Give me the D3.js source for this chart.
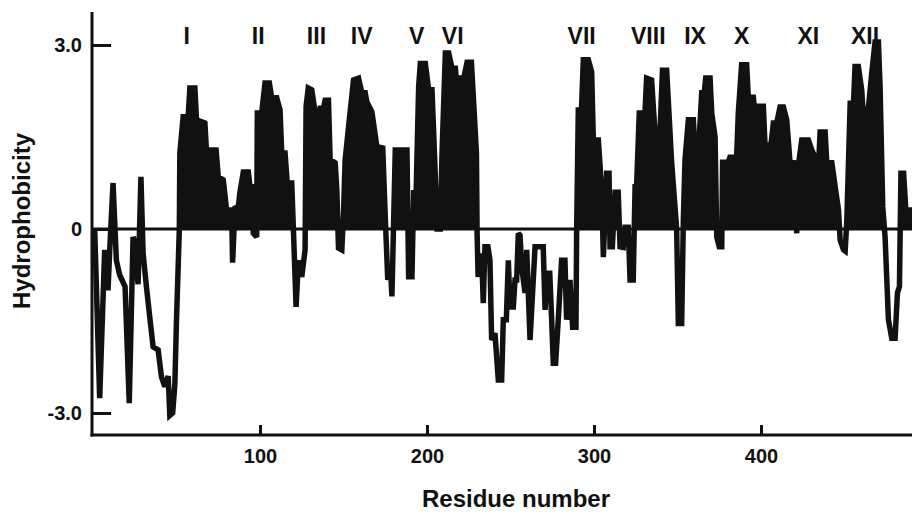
<!DOCTYPE html>
<html>
<head>
<meta charset="utf-8">
<script src="https://cdn.jsdelivr.net/npm/d3@7"></script>
<style>
  html, body { margin: 0; padding: 0; background: #fff; }
  svg { display: block; }
  text { font-family: "Liberation Sans", Arial, Helvetica, sans-serif; font-weight: bold; fill: #111; }
</style>
</head>
<body>
<script>
// ---- Data ----
const residue = [
  1, 4, 7, 9, 10, 12, 14, 16, 19.2, 21.7, 24, 25, 27, 28.7, 30, 32, 34, 36, 39, 41, 43, 45, 46, 47.7, 49, 50, 51.7,
  52, 54, 57, 58, 61, 62, 67, 68, 70, 73.7, 75, 78, 80, 83, 83.6, 85, 87, 88, 90, 93, 94, 95, 96, 98,
  98.4, 101, 103, 105.6, 107, 110, 112, 113, 115, 116.3, 119, 120, 121.6, 123, 125, 127,
  127.6, 128.9, 131, 133.5, 135, 136, 138, 139, 141, 142, 145, 146, 147, 149, 150,
  151, 153, 156, 159, 161, 163, 164, 167, 170, 173.5, 175, 176.5, 178, 179,
  181, 183, 184, 185, 188, 189, 191, 192, 193.5, 195, 196, 199, 201, 203, 205, 206, 208,
  209, 211, 213, 215, 217, 218, 220, 222, 224, 226.6, 229.6, 230, 230.6, 232.7, 233.7, 234.7, 236.5,
  237.7, 238.7, 240.7, 242.7, 244.7, 245.7, 247.5, 248.7, 249.7, 251.7, 252.7, 253.7, 254.7, 255.7,
  256.7, 258.7, 259.7, 261.7, 264.7, 269.6, 270.7, 271.7, 273.5, 274.6, 275.6, 277, 278.6, 280.6,
  282.6, 283.6, 285.6, 287.2, 289.2, 289.6, 290.6, 292.5, 293.6, 296.6, 298.6, 299.6, 302.6, 304.6,
  305.6, 307.6, 309, 309.6, 311, 312.6, 314.5, 315.6, 317.5, 318.6, 320.5, 321.6, 323.5, 324.6, 325.5,
  327.1, 330.5, 331.5, 334.5, 336.5, 339.5, 341, 343.5, 346.5, 349.5, 350.5, 352.5, 353.5,
  354.5, 356.5, 359.5, 360.5, 362.5, 364.5, 366, 366.9, 369.5, 370.5, 372.5, 373.5, 375, 376.5,
  377, 380.4, 381.4, 385.4, 386.4, 388.4, 391.4, 392.4, 395.4, 396.4, 398.4, 401.4, 402.4, 404.4,
  405.4, 407.4, 409.4, 411.4, 413.4, 415.4, 417.4, 419.4, 421.4, 422.4, 424.4, 428.4, 430.4, 432.4,
  433.4, 434.4, 435.4, 438.4, 439.4, 442.4, 444.4, 446.4, 447.4, 449.4, 450.4, 451.4, 453.4, 455.4,
  456.3, 458.3, 460.3, 461.3, 462.3, 464.3, 466.3, 468.3, 470.3, 471.3, 472.9, 474.3, 476.3, 478.3,
  480.3, 481.7, 482.9, 483.8, 485.4, 487.4, 488.4, 491
];
const hydrophobicity = [
  0, -2.76, -0.34, -1.0, -0.35, 0.75, -0.51, -0.75, -0.94, -2.84, -0.13, -0.2, -0.9, 0.85, -0.4, -0.94, -1.44, -1.92, -1.97, -2.41, -2.57, -2.4, -3.04, -3.0, -2.54, -1.48, 0,
  1.24, 1.83, 1.83, 2.3, 2.3, 1.78, 1.73, 1.24, 1.29, 1.29, 0.85, 0.8, 0.31, 0.31, -0.55, 0.34, 0.36, 0.6, 0.93, 0.93, 0.69, 0.69, -0.07, -0.13,
  1.89, 1.89, 2.38, 2.38, 2.14, 2.14, 1.94, 1.24, 1.24, 0.75, 0.75, 0, -1.27, -0.51, -0.78, -0.34,
  2.0, 2.3, 2.27, 1.81, 1.81, 1.97, 1.97, 2.1, 2.1, 1.13, 1.08, 0.64, -0.31, -0.34, 0.26,
  1.13, 1.66, 2.43, 2.46, 2.22, 2.22, 2.07, 1.91, 1.34, 1.32, 0.2, -0.83, -0.6, -1.1,
  1.29, 1.29, 1.08, 1.29, 1.29, -0.78, -0.78, 0.59, 0.59, 2.32, 2.7, 2.7, 2.27, 2.27, 0.85, 0, 0,
  1.24, 2.87, 2.87, 2.62, 2.62, 2.32, 2.46, 2.46, 2.72, 2.72, 1.24, -0.07, -0.78, -0.4, -1.21, -0.29, -0.29,
  -0.51, -1.81, -1.7, -2.46, -2.46, -1.48, -1.48, -0.51, -1.27, -1.27, -0.83, -0.83, -0.07, -0.1,
  -0.62, -1.04, -0.34, -1.81, -0.29, -0.29, -1.32, -0.72, -0.72, -1.44, -2.19, -2.19, -1.48, -0.51,
  -0.51, -1.48, -0.83, -1.6, -1.6, -0.07, 1.94, 1.94, 2.76, 2.76, 2.56, 1.45, 1.45, 0.64,
  -0.46, 0.91, 0.91, -0.29, -0.29, 0.6, 0.6, -0.29, -0.3, 0.03, 0.03, -0.83, -0.83, 0.69, 0.69,
  1.89, 1.89, 2.46, 2.43, 1.58, 1.58, 2.59, 2.59, 1.08, 0, -1.54, -1.54, 0.15,
  1.13, 1.78, 1.78, 1.24, 1.24, 2.22, 2.22, 2.46, 2.46, 1.89, 1.5, -0.13, -0.29, -0.29,
  1.09, 1.09, 1.17, 1.17, 1.89, 2.68, 2.68, 2.15, 2.15, 1.89, 2.0, 2.0, 1.37, 1.37,
  1.24, 1.73, 1.73, 1.99, 1.99, 1.78, 1.08, 1.08, -0.07, 1.04, 1.45, 1.45, 1.29, 1.17,
  1.01, 1.01, 1.58, 1.58, 1.08, 1.08, 0.69, 0.31, -0.18, -0.34, -0.36, 0.15, 2.05, 2.05,
  2.65, 2.65, 2.27, 1.83, 1.94, 1.97, 2.54, 3.05, 3.05, 2.32, 0.36, -0.13, -1.48, -1.78,
  -1.78, -1.04, -0.94, 0.91, 0.91, 0, 0.31, 0.31
];
const segmentLabels = ["I", "II", "III", "IV", "V", "VI", "VII", "VIII", "IX", "X", "XI", "XII"];
const segmentResidues = [56.1, 98.9, 133.8, 160.9, 193.8, 215.4, 292.6, 332.5, 360.5, 388.5, 428.3, 462.3];
const xTickValues = [100, 200, 300, 400];
const yTickValues = [-3, 0, 3];
const yTickLabels = ["-3.0", "0", "3.0"];

// ---- Drawing ----
const W = 912, H = 514;
const svg = d3.select("body").append("svg").attr("width", W).attr("height", H);

const x = d3.scaleLinear().domain([0, 500]).range([93, 928]);
const y = d3.scaleLinear().domain([-3, 3]).range([413, 45]);

const axisX = 92, axisTop = 12, axisBottomY = 435;

const data = residue.map((r, i) => ({ r, v: hydrophobicity[i] }));

// clip for positive fill
const defs = svg.append("defs");
defs.append("clipPath").attr("id", "pos")
  .append("rect").attr("x", axisX).attr("y", 0).attr("width", W).attr("height", y(0));

const area = d3.area().x(d => x(d.r)).y0(y(0)).y1(d => y(d.v));
svg.append("path").datum(data)
  .attr("d", area).attr("fill", "#111").attr("clip-path", "url(#pos)");

const line = d3.line().x(d => x(d.r)).y(d => y(d.v));
svg.append("path").datum(data)
  .attr("d", line).attr("fill", "none").attr("stroke", "#111")
  .attr("stroke-width", 5.5).attr("stroke-linejoin", "miter").attr("stroke-miterlimit", 2.5);

// zero line
svg.append("line").attr("x1", axisX).attr("x2", W).attr("y1", y(0)).attr("y2", y(0))
  .attr("stroke", "#111").attr("stroke-width", 3);

// y axis
const yAxis = d3.axisLeft(y).tickValues(yTickValues)
  .tickFormat((d, i) => yTickLabels[yTickValues.indexOf(d)])
  .tickSizeInner(-19).tickSizeOuter(0).tickPadding(10);
const gy = svg.append("g").attr("transform", `translate(${axisX},0)`).call(yAxis);
gy.select(".domain").remove();
gy.selectAll(".tick line").attr("stroke", "#111").attr("stroke-width", 3);
gy.selectAll(".tick text").attr("font-size", 20).attr("fill", "#111")
  .style("font-family", "'Liberation Sans', Arial, sans-serif").style("font-weight", "bold");

// x axis
const xAxis = d3.axisBottom(x).tickValues(xTickValues).tickFormat(d3.format("d"))
  .tickSizeInner(-10).tickSizeOuter(0).tickPadding(14);
const gx = svg.append("g").attr("transform", `translate(0,${axisBottomY})`).call(xAxis);
gx.select(".domain").remove();
gx.selectAll(".tick line").attr("stroke", "#111").attr("stroke-width", 3);
gx.selectAll(".tick text").attr("font-size", 20).attr("fill", "#111")
  .style("font-family", "'Liberation Sans', Arial, sans-serif").style("font-weight", "bold");

// axis lines
svg.append("line").attr("x1", axisX).attr("x2", axisX).attr("y1", axisTop).attr("y2", axisBottomY + 1.5)
  .attr("stroke", "#111").attr("stroke-width", 3);
svg.append("line").attr("x1", axisX - 1.5).attr("x2", W).attr("y1", axisBottomY).attr("y2", axisBottomY)
  .attr("stroke", "#111").attr("stroke-width", 3);

// segment labels
svg.append("g").selectAll("text").data(segmentLabels).join("text")
  .attr("x", (d, i) => x(segmentResidues[i]))
  .attr("y", 44)
  .attr("text-anchor", "middle")
  .attr("font-size", 23)
  .text(d => d);

// axis titles
svg.append("text").attr("transform", "translate(30,221) rotate(-90)")
  .attr("text-anchor", "middle").attr("font-size", 24).text("Hydrophobicity");
svg.append("text").attr("x", 516).attr("y", 507)
  .attr("text-anchor", "middle").attr("font-size", 24).text("Residue number");
</script>
</body>
</html>
